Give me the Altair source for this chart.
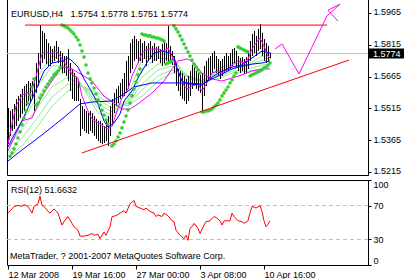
import altair as alt
import pandas as pd

FONT = "Liberation Sans"

# ---------------- texts ----------------
symbol_title = "EURUSD,H4\u00a0\u00a0\u00a01.5754 1.5778 1.5751 1.5774"
last_close = 1.5774
rsi_title = "RSI(12) 51.6632"
copyright_text = "MetaTrader, ? 2001-2007 MetaQuotes Software Corp."

# ---------------- price bars (H4) ----------------
bar_high = [
    1.5517, 1.5503, 1.5512, 1.5536, 1.5559, 1.5573, 1.5583, 1.5607, 1.5621, 1.5630,
    1.5644, 1.5635, 1.5644, 1.5654, 1.5729, 1.5776, 1.5908, 1.5880, 1.5871, 1.5842,
    1.5823, 1.5809, 1.5795, 1.5809, 1.5833, 1.5805, 1.5786, 1.5776, 1.5762, 1.5762,
    1.5795, 1.5729, 1.5701, 1.5682, 1.5663, 1.5644, 1.5559, 1.5526, 1.5512, 1.5503,
    1.5493, 1.5503, 1.5493, 1.5479, 1.5465, 1.5456, 1.5456, 1.5446, 1.5432, 1.5456,
    1.5479, 1.5526, 1.5559, 1.5588, 1.5607, 1.5621, 1.5635, 1.5654, 1.5682, 1.5739,
    1.5762, 1.5823, 1.5842, 1.5857, 1.5842, 1.5833, 1.5842, 1.5823, 1.5833, 1.5809,
    1.5823, 1.5833, 1.5809, 1.5823, 1.5805, 1.5809, 1.5795, 1.5819, 1.5833, 1.5823,
    1.5904, 1.5809, 1.5786, 1.5762, 1.5729, 1.5701, 1.5691, 1.5682, 1.5668, 1.5654,
    1.5668, 1.5691, 1.5720, 1.5710, 1.5691, 1.5682, 1.5673, 1.5682, 1.5715, 1.5739,
    1.5753, 1.5762, 1.5776, 1.5786, 1.5762, 1.5748, 1.5739, 1.5748, 1.5762, 1.5776,
    1.5762, 1.5776, 1.5795, 1.5800, 1.5786, 1.5762, 1.5753, 1.5757, 1.5748, 1.5757,
    1.5776, 1.5833, 1.5866, 1.5880, 1.5857, 1.5890, 1.5913, 1.5871, 1.5842, 1.5823,
    1.5809, 1.5778,
]
bar_low = [
    1.5347, 1.5385, 1.5408, 1.5418, 1.5432, 1.5456, 1.5470, 1.5489, 1.5503, 1.5526,
    1.5550, 1.5540, 1.5559, 1.5503, 1.5588, 1.5621, 1.5701, 1.5729, 1.5748, 1.5724,
    1.5710, 1.5715, 1.5729, 1.5739, 1.5748, 1.5729, 1.5701, 1.5682, 1.5682, 1.5668,
    1.5644, 1.5597, 1.5559, 1.5550, 1.5550, 1.5550, 1.5385, 1.5418, 1.5408, 1.5399,
    1.5394, 1.5408, 1.5399, 1.5385, 1.5371, 1.5361, 1.5352, 1.5347, 1.5352, 1.5361,
    1.5338, 1.5385, 1.5432, 1.5493, 1.5526, 1.5540, 1.5559, 1.5569, 1.5573, 1.5588,
    1.5607, 1.5682, 1.5701, 1.5739, 1.5748, 1.5729, 1.5739, 1.5729, 1.5748, 1.5715,
    1.5739, 1.5748, 1.5729, 1.5739, 1.5739, 1.5748, 1.5729, 1.5715, 1.5729, 1.5739,
    1.5724, 1.5729, 1.5720, 1.5682, 1.5621, 1.5597, 1.5573, 1.5559, 1.5550, 1.5536,
    1.5550, 1.5573, 1.5607, 1.5621, 1.5607, 1.5597, 1.5588, 1.5503, 1.5573, 1.5621,
    1.5644, 1.5654, 1.5682, 1.5701, 1.5682, 1.5668, 1.5654, 1.5668, 1.5682, 1.5691,
    1.5691, 1.5701, 1.5715, 1.5729, 1.5710, 1.5691, 1.5682, 1.5691, 1.5677, 1.5682,
    1.5701, 1.5739, 1.5762, 1.5776, 1.5762, 1.5786, 1.5795, 1.5762, 1.5739, 1.5729,
    1.5739, 1.5751,
]

# ---------------- parabolic SAR (segments: first bar, values) ----------------
sar_segments = [
    (1, [1.5290, 1.5305, 1.5324, 1.5347, 1.5375, 1.5404, 1.5437, 1.5470, 1.5503, 1.5540,
         1.5578, 1.5616, 1.5654]),
    (14, [1.5531, 1.5540, 1.5564, 1.5578, 1.5597, 1.5616, 1.5630, 1.5644, 1.5658, 1.5673,
          1.5682, 1.5691, 1.5706]),
    (27, [1.5908, 1.5904, 1.5899, 1.5894, 1.5885, 1.5875, 1.5866, 1.5852, 1.5838, 1.5814,
          1.5786, 1.5757, 1.5720, 1.5682, 1.5654, 1.5635, 1.5611, 1.5583, 1.5555, 1.5531,
          1.5507, 1.5484, 1.5460, 1.5441]),
    (52, [1.5338, 1.5347, 1.5361, 1.5380, 1.5399, 1.5423, 1.5451, 1.5479, 1.5507, 1.5540,
          1.5574, 1.5607, 1.5639, 1.5673, 1.5701]),
    (67, [1.5866, 1.5861, 1.5861, 1.5857, 1.5857, 1.5852, 1.5852, 1.5847, 1.5847, 1.5842,
          1.5838, 1.5833]),
    (79, [1.5724, 1.5729, 1.5734, 1.5739]),
    (83, [1.5904, 1.5890, 1.5875, 1.5857, 1.5838, 1.5819, 1.5800, 1.5781, 1.5762, 1.5743,
          1.5724, 1.5710, 1.5696, 1.5682]),
    (97, [1.5498, 1.5498, 1.5503, 1.5503, 1.5507, 1.5512, 1.5522, 1.5531, 1.5540, 1.5555,
          1.5574, 1.5588, 1.5602, 1.5616, 1.5635, 1.5649, 1.5668, 1.5682]),
    (115, [1.5805, 1.5800, 1.5795, 1.5790, 1.5786, 1.5781]),
    (121, [1.5668, 1.5673, 1.5677, 1.5682, 1.5687, 1.5691, 1.5696, 1.5706, 1.5710, 1.5720,
           1.5729]),
]

# ---------------- moving averages ----------------
green_index = [0, 7, 15, 22, 30, 37, 45, 52, 60, 67, 75, 82, 90, 97, 105, 112, 120, 127, 131]
green_lines = [
    [1.5418, 1.5550, 1.5668, 1.5762, 1.5729, 1.5621, 1.5493, 1.5465, 1.5573, 1.5748,
     1.5776, 1.5762, 1.5654, 1.5644, 1.5701, 1.5729, 1.5748, 1.5809, 1.5762],
    [1.5385, 1.5503, 1.5621, 1.5715, 1.5715, 1.5625, 1.5517, 1.5479, 1.5559, 1.5701,
     1.5753, 1.5748, 1.5663, 1.5644, 1.5691, 1.5720, 1.5739, 1.5786, 1.5753],
    [1.5357, 1.5456, 1.5569, 1.5663, 1.5691, 1.5625, 1.5536, 1.5498, 1.5550, 1.5663,
     1.5724, 1.5729, 1.5668, 1.5644, 1.5682, 1.5710, 1.5724, 1.5762, 1.5743],
    [1.5333, 1.5418, 1.5522, 1.5616, 1.5663, 1.5625, 1.5555, 1.5517, 1.5540, 1.5630,
     1.5696, 1.5715, 1.5668, 1.5644, 1.5673, 1.5701, 1.5715, 1.5743, 1.5734],
    [1.5305, 1.5375, 1.5474, 1.5569, 1.5630, 1.5621, 1.5573, 1.5531, 1.5531, 1.5602,
     1.5668, 1.5696, 1.5668, 1.5644, 1.5663, 1.5691, 1.5701, 1.5720, 1.5724],
    [1.5281, 1.5338, 1.5432, 1.5526, 1.5597, 1.5621, 1.5588, 1.5550, 1.5526, 1.5573,
     1.5644, 1.5682, 1.5668, 1.5644, 1.5654, 1.5682, 1.5691, 1.5701, 1.5710],
]

blue_slow_index = [0, 7, 17, 27, 36, 42, 52, 57, 63, 72, 90, 97, 102, 107, 112, 117, 122, 127, 131]
blue_slow = [1.5267, 1.5319, 1.5390, 1.5465, 1.5536, 1.5545, 1.5550, 1.5578, 1.5616, 1.5635,
             1.5635, 1.5630, 1.5654, 1.5677, 1.5701, 1.5715, 1.5724, 1.5729, 1.5739]

blue_fast_index = [0, 2, 7, 12, 15, 18, 22, 27, 30, 32, 35, 38, 41, 45, 48, 50, 53, 56, 58, 62,
                   65, 68, 70, 73, 77, 81, 83, 85, 87, 90, 97, 102, 107, 112, 117, 122, 127, 131]
blue_fast = [1.5333, 1.5371, 1.5456, 1.5559, 1.5625, 1.5691, 1.5729, 1.5739, 1.5753, 1.5739,
             1.5710, 1.5654, 1.5607, 1.5536, 1.5456, 1.5427, 1.5446, 1.5489, 1.5550, 1.5597,
             1.5658, 1.5706, 1.5739, 1.5776, 1.5786, 1.5776, 1.5757, 1.5691, 1.5644, 1.5630,
             1.5625, 1.5663, 1.5691, 1.5710, 1.5720, 1.5753, 1.5786, 1.5776]

mag_fast_index = [0, 2, 4, 7, 12, 15, 17, 19, 21, 24, 26, 30, 32, 35, 37, 40, 42, 46, 50, 52,
                  55, 57, 60, 62, 65, 67, 70, 75, 78, 80, 82, 85, 88, 90, 92, 95, 97, 100, 102, 105,
                  107, 110, 112, 115, 118, 120, 122, 124, 126, 128, 130, 131]
mag_fast = [1.5347, 1.5441, 1.5526, 1.5578, 1.5597, 1.5701, 1.5772, 1.5786, 1.5772, 1.5786,
            1.5762, 1.5706, 1.5677, 1.5658, 1.5573, 1.5503, 1.5465, 1.5441, 1.5418, 1.5432,
            1.5517, 1.5564, 1.5607, 1.5668, 1.5729, 1.5776, 1.5795, 1.5795, 1.5786, 1.5800,
            1.5762, 1.5691, 1.5621, 1.5607, 1.5621, 1.5630, 1.5597, 1.5644, 1.5682, 1.5691,
            1.5682, 1.5701, 1.5720, 1.5739, 1.5729, 1.5748, 1.5795, 1.5823, 1.5847, 1.5809,
            1.5762, 1.5753]

mag_slow_index = [0, 7, 12, 17, 22, 27, 32, 37, 42, 48, 57, 61, 65, 72, 78, 82, 85, 90, 93, 97,
                  102, 107, 112, 117, 122, 127, 131]
mag_slow = [1.5314, 1.5456, 1.5470, 1.5573, 1.5644, 1.5710, 1.5701, 1.5673, 1.5644, 1.5573,
            1.5512, 1.5512, 1.5536, 1.5588, 1.5644, 1.5701, 1.5739, 1.5748, 1.5729, 1.5682,
            1.5654, 1.5644, 1.5658, 1.5673, 1.5691, 1.5701, 1.5701]

# ---------------- drawn objects ----------------
resist_index = [8.5, 159.5]
resist_value = [1.5908, 1.5908]
trend_index = [37, 170.5]
trend_value = [1.5305, 1.5743]
forecast_index = [133.5, 137, 145.5, 159.5, 166]
forecast_value = [1.5795, 1.5819, 1.5677, 1.5951, 1.6007]
arrow_index = [165, 166, 160]
arrow_value = [1.5927, 1.6007, 1.5978]

# ---------------- RSI(12) ----------------
rsi_index = [0, 2, 3, 5, 7, 8, 10, 12, 13, 15, 16, 17, 18, 20, 21, 23, 25, 27, 28, 30,
             32, 33, 35, 36, 38, 40, 42, 43, 45, 46, 48, 49, 51, 52, 54, 56, 58, 59, 61, 63,
             64, 66, 68, 69, 71, 73, 74, 75, 77, 78, 80, 82, 83, 84, 86, 88, 89, 90, 91, 92,
             93, 95, 96, 98, 99, 101, 103, 104, 106, 107, 108, 111, 112, 113, 115, 117, 118, 120, 121, 122,
             124, 126, 127, 128, 129, 130, 131]
rsi_value = [61, 66, 69, 70, 69, 71, 69, 61, 69, 72, 81, 70, 69, 63, 61, 66, 61, 47, 51, 57,
             49, 45, 41, 34, 34, 35, 37, 35, 36, 31, 39, 35, 45, 57, 58, 61, 64, 61, 72, 76,
             69, 67, 65, 67, 63, 61, 57, 59, 57, 61, 58, 52, 51, 41, 35, 31, 35, 29, 43, 45,
             49, 43, 37, 47, 51, 52, 57, 56, 52, 47, 52, 52, 61, 57, 52, 51, 49, 52, 61, 69,
             67, 70, 63, 52, 45, 48, 51.66]

# ---------------- axes ----------------
price_ticks = [1.5215, 1.5365, 1.5515, 1.5665, 1.5815, 1.5965]
rsi_ticks = [0, 30, 70, 100]
rsi_levels = [30, 70]
time_tick_index = [0, 32, 64, 96, 128]
time_tick_labels = ["12 Mar 2008", "19 Mar 16:00", "27 Mar 00:00", "3 Apr 08:00", "10 Apr 16:00"]

# ================= build =================
PW, MH, RH = 361, 176, 85
XS = alt.Scale(domain=[-0.5, 180], nice=False, zero=False)
YS = alt.Scale(domain=[1.52008, 1.60310], nice=False, zero=False)
RS = alt.Scale(domain=[0, 100], nice=False, zero=False)

price_axis = alt.Axis(orient="right", values=price_ticks, format=".4f", tickSize=3,
                      labelPadding=2, labelOffset=-1, grid=False, title=None,
                      labelFlush=False, labelOverlap=False)
rsi_axis = alt.Axis(orient="right", values=rsi_ticks, tickSize=3, labelPadding=2,
                    grid=False, title=None, labelFlush=True, labelOverlap=False)
expr = ""
for v, lab in zip(time_tick_index, time_tick_labels):
    expr += f"datum.value == {v} ? '{lab}' : "
expr += "''"
time_axis = alt.Axis(values=time_tick_index, labelExpr=expr, tickSize=4, labelAlign="left",
                     labelPadding=1, labelFlush=False, labelOverlap=False, grid=False,
                     title=None, domain=False)


def xq():
    return alt.X("i:Q", scale=XS, axis=None)


def yq(f="v"):
    return alt.Y(f"{f}:Q", scale=YS, axis=price_axis)


def line_df(idx, vals, name):
    return pd.DataFrame({"i": idx, "v": vals, "s": name})


def line_layer(df, color):
    return alt.Chart(df).mark_line(color=color, strokeWidth=1).encode(
        x=xq(), y=yq(), detail="s:N")


bars = pd.DataFrame({"i": list(range(len(bar_high))), "high": bar_high, "low": bar_low})
sar_rows = []
for start, vals in sar_segments:
    for k, val in enumerate(vals):
        sar_rows.append({"i": start + k, "v": val})
sar_df = pd.DataFrame(sar_rows)
fan_df = pd.concat([line_df(green_index, g, f"g{k}") for k, g in enumerate(green_lines)])
cur_df = pd.DataFrame({"v": [last_close], "t": [f"{last_close:.4f}"]})

cur_rule = alt.Chart(cur_df).mark_rule(color="#c0c0c0", strokeWidth=1).encode(y=yq())
fan = line_layer(fan_df, "#90ee90")
bar_layer = alt.Chart(bars).mark_rule(color="black", strokeWidth=1, xOffset=0.5).encode(
    x=xq(), y=yq("low"), y2="high:Q")
mag_s = line_layer(line_df(mag_slow_index, mag_slow, "ms"), "#ff00ff")
mag_f = line_layer(line_df(mag_fast_index, mag_fast, "mf"), "#ff00ff")
blue_s = line_layer(line_df(blue_slow_index, blue_slow, "bs"), "#0000ff")
blue_f = line_layer(line_df(blue_fast_index, blue_fast, "bf"), "#0000ff")
sar = alt.Chart(sar_df).mark_circle(size=13, color="#32cd32", opacity=1).encode(x=xq(), y=yq())
resist = line_layer(line_df(resist_index, resist_value, "r"), "#ff0000")
trend = line_layer(line_df(trend_index, trend_value, "t"), "#ff0000")
forecast = line_layer(line_df(forecast_index, forecast_value, "f"), "#ff00ff")
arrow = alt.Chart(line_df(arrow_index, arrow_value, "a")).mark_line(
    color="#ff00ff", strokeWidth=1).encode(x=xq(), y=yq(), order=alt.Order("v:Q"))
box = alt.Chart(cur_df).mark_tick(color="black", thickness=10, size=36, orient="horizontal",
                                  opacity=1).encode(x=alt.value(379), y=yq())
box_text = alt.Chart(cur_df).mark_text(align="left", baseline="middle", color="white",
                                       font=FONT, fontSize=9, dy=0.5).encode(
    x=alt.value(366), y=yq(), text="t:N")
title = alt.Chart(pd.DataFrame({"t": [symbol_title]})).mark_text(
    align="left", baseline="alphabetic", font=FONT, fontSize=9, color="black").encode(
    x=alt.value(4), y=alt.value(18), text="t:N")

main = alt.layer(cur_rule, fan, bar_layer, mag_s, mag_f, blue_s, blue_f, sar, resist, trend,
                 forecast, arrow, box, box_text, title).properties(width=PW, height=MH)

rsi_df = pd.DataFrame({"i": rsi_index, "v": rsi_value})
levels = alt.Chart(pd.DataFrame({"v": rsi_levels})).mark_rule(
    color="#c0c0c0", strokeDash=[4, 3], strokeWidth=1).encode(
    y=alt.Y("v:Q", scale=RS, axis=rsi_axis))
rsi_line = alt.Chart(rsi_df).mark_line(color="#ff0000", strokeWidth=1).encode(
    x=alt.X("i:Q", scale=XS, axis=time_axis), y=alt.Y("v:Q", scale=RS, axis=rsi_axis))
rsi_lab = alt.Chart(pd.DataFrame({"t": [rsi_title]})).mark_text(
    align="left", baseline="alphabetic", font=FONT, fontSize=9, color="black").encode(
    x=alt.value(4), y=alt.value(13), text="t:N")
copy_lab = alt.Chart(pd.DataFrame({"t": [copyright_text]})).mark_text(
    align="left", baseline="alphabetic", font=FONT, fontSize=9, color="black").encode(
    x=alt.value(3), y=alt.value(79), text="t:N")
rsi = alt.layer(levels, rsi_line, rsi_lab, copy_lab).properties(width=PW, height=RH)

chart = alt.vconcat(main, rsi, spacing=2).properties(
    padding={"left": 5, "top": -2, "right": 0, "bottom": 0},
    background="white",
).configure_view(stroke="black", strokeWidth=1).configure_axis(
    labelFont=FONT, labelFontSize=9, labelColor="black", tickColor="black",
    domainColor="black", tickWidth=1, domainWidth=1)

chart.save("out.html", embed_options={"renderer": "svg", "actions": False})
